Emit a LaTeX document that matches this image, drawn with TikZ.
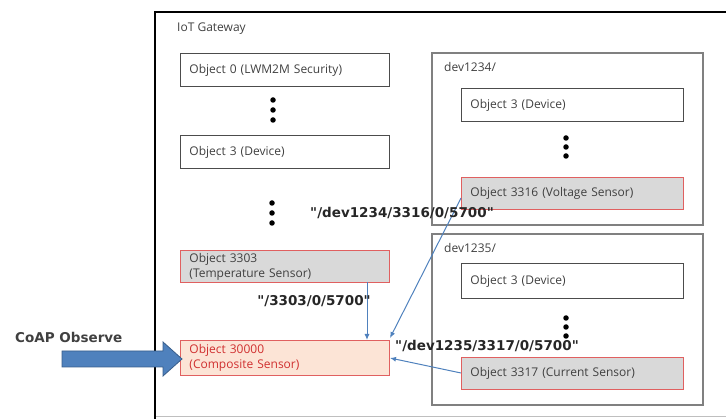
\documentclass[tikz,border=0pt]{standalone}
\usepackage{fontspec}
\setmainfont{Open Sans}
\newfontfamily\lblfont{DejaVu Sans}
\usetikzlibrary{arrows.meta}
\definecolor{redb}{HTML}{E06060}
\definecolor{grayfill}{HTML}{D9D9D9}
\definecolor{peach}{HTML}{FCE4D6}
\definecolor{bluel}{HTML}{4F81BD}
\definecolor{blued}{HTML}{385D8A}
\definecolor{txt}{HTML}{404040}
\definecolor{redt}{HTML}{D03030}
\tikzset{
  obj/.style={draw=black!70, line width=0.9pt, rectangle, minimum height=33pt, text width=#1, align=left, inner xsep=9pt, inner ysep=0pt, font=\fontsize{12}{15}\selectfont, text=txt, anchor=north west},
  sens/.style={obj=#1, draw=redb, fill=grayfill},
  devbox/.style={draw=gray, line width=1.2pt},
  boxtitle/.style={anchor=west, font=\fontsize{12}{14}\selectfont, text=txt, inner sep=0pt},
  lbl/.style={font=\lblfont\fontsize{13.5}{15}\selectfont\bfseries, text=black!85, inner sep=1pt},
  conn/.style={draw=bluel, line width=1pt, -{Latex[length=6pt,width=5pt]}},
  dotc/.style={fill=black, circle, inner sep=0pt, minimum size=5.5pt}
}
\begin{document}
\begin{tikzpicture}[x=1pt,y=-1pt]
\useasboundingbox (0,0) rectangle (726,419);
% gateway frame
\draw[black!25, line width=1pt] (155,417) -- (726,417);
\draw[line width=2.2pt] (726,12) -- (155,12) -- (155,419);
\node[boxtitle] (gw) at (177,29) {IoT Gateway};
% left column
\node[obj=191pt] (o0) at (180,53) {Object 0 (LWM2M Security)};
\node[dotc] (d1a) at (273,100) {};
\node[dotc] (d1b) at (273,110) {};
\node[dotc] (d1c) at (273,120) {};
\node[obj=191pt] (o3) at (180,135) {Object 3 (Device)};
\node[dotc] (d2a) at (272,203) {};
\node[dotc] (d2b) at (272,213) {};
\node[dotc] (d2c) at (272,223) {};
\node[sens=191pt, minimum height=32pt] (o3303) at (180,250) {Object 3303\\(Temperature Sensor)};
\node[obj=191pt, draw=redb, fill=peach, text=redt, minimum height=35pt] (o30000) at (180,340) {Object 30000\\(Composite Sensor)};
% dev1234
\draw[devbox] (432,53) rectangle (703,225);
\node[boxtitle] (dv1) at (444,67) {dev1234/};
\node[obj=204pt] (a3) at (461,88) {Object 3 (Device)};
\node[dotc] (d3a) at (566,138) {};
\node[dotc] (d3b) at (566,147) {};
\node[dotc] (d3c) at (566,156) {};
\node[sens=204pt, minimum height=32pt] (o3316) at (461,177) {Object 3316 (Voltage Sensor)};
% dev1235
\draw[devbox] (432,234) rectangle (703,405);
\node[boxtitle] (dv2) at (444,248) {dev1235/};
\node[obj=204pt, minimum height=35pt] (b3) at (461,263) {Object 3 (Device)};
\node[dotc] (d4a) at (566,318) {};
\node[dotc] (d4b) at (566,327) {};
\node[dotc] (d4c) at (566,336) {};
\node[sens=204pt, minimum height=32pt] (o3317) at (461,357) {Object 3317 (Current Sensor)};
% connectors
\coordinate (s1) at (367,282);
\coordinate (e1) at (367,340);
\draw[conn] (s1) -- (e1);
\coordinate (s2) at (461,198);
\coordinate (e2) at (390,338);
\draw[conn] (s2) -- (e2);
\coordinate (s3) at (461,373);
\coordinate (e3) at (390,358);
\draw[conn] (s3) -- (e3);
% labels
\node[lbl] (l1) at (314,301) {"/3303/0/5700"};
\node[lbl] (l2) at (402,213) {"/dev1234/3316/0/5700"};
\node[lbl] (l3) at (487,346) {"/dev1235/3317/0/5700"};
% CoAP
\node[anchor=west, font=\lblfont\fontsize{13.5}{15}\selectfont\bfseries, text=txt, inner sep=0pt] (coap) at (15,337) {CoAP Observe};
\draw[draw=blued, fill=bluel, line width=0.8pt, line join=miter] (62,351) -- (163,351) -- (163,342) -- (182,359) -- (163,376) -- (163,367) -- (62,367) -- cycle;
\end{tikzpicture}
\end{document}
